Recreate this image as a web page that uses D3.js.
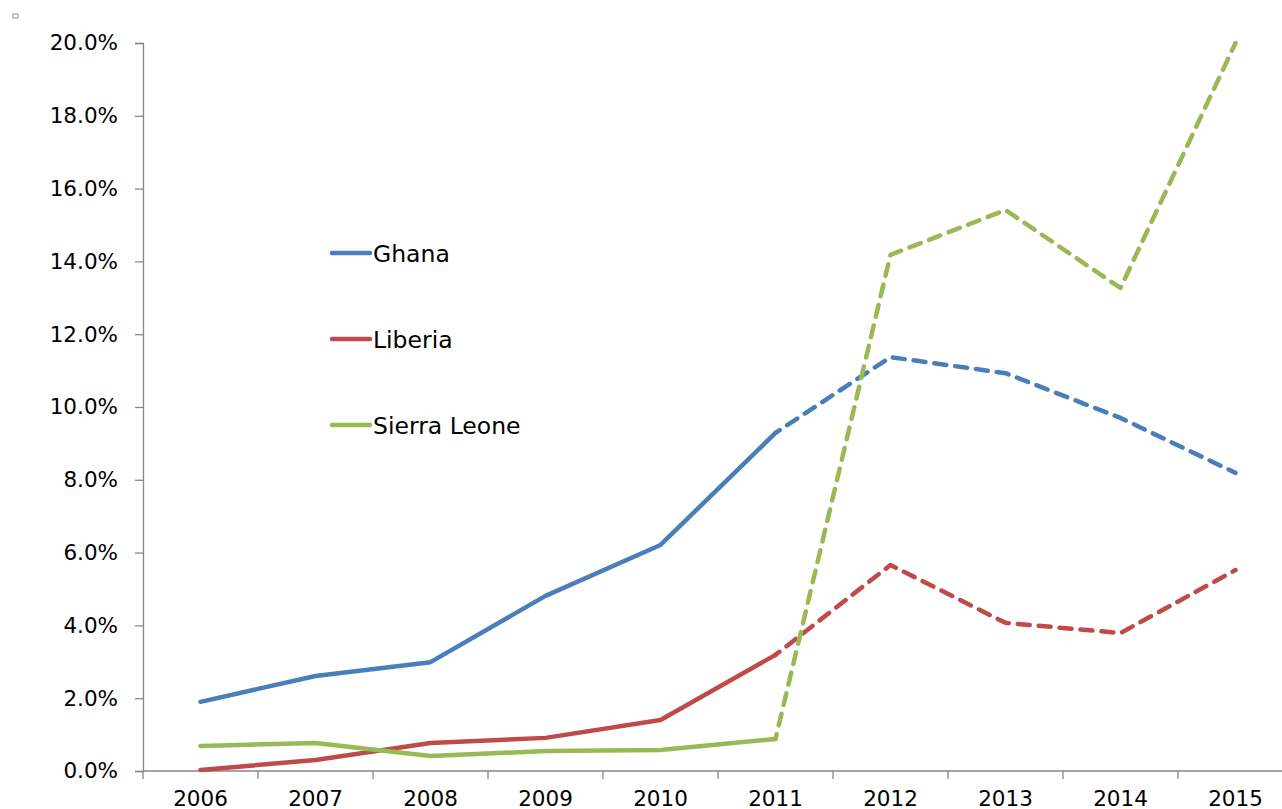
<!DOCTYPE html>
<html><head><meta charset="utf-8">
<script src="https://cdn.jsdelivr.net/npm/d3@7"></script>
<style>body{margin:0;background:#fff}svg{display:block}text{font-family:"DejaVu Sans",Verdana,sans-serif;fill:#000}</style>
</head><body><svg id="c" width="1282" height="809"></svg>
<script>
const years = ["2006","2007","2008","2009","2010","2011","2012","2013","2014","2015"];
const ghana = [1.9, 2.61, 2.99, 4.81, 6.21, 9.29, 11.37, 10.93, 9.70, 8.19];
const liberia = [0.03, 0.30, 0.77, 0.91, 1.40, 3.19, 5.66, 4.07, 3.79, 5.52];
const sierraLeone = [0.69, 0.77, 0.41, 0.55, 0.58, 0.88, 14.18, 15.41, 13.27, 20.0];
const yTicks = [0, 2, 4, 6, 8, 10, 12, 14, 16, 18, 20];
const seriesNames = ["Ghana", "Liberia", "Sierra Leone"];
const seriesColors = ["#4a7ebb", "#be4b48", "#98b954"];
const forecastFrom = "2011";

(function () {
const svg = d3.select("#c");
const pl = 143, pr = 1293, pt = 43, pb = 771;
const x = d3.scalePoint().domain(years).range([pl, pr]).padding(0.5);
const xb = d3.scaleBand().domain(years).range([pl, pr]);
const y = d3.scaleLinear().domain([0, 20]).range([pb, pt]);
const axisColor = "#868686";

svg.append("rect").attr("x", 13).attr("y", 14).attr("width", 5).attr("height", 4)
  .attr("fill", "none").attr("stroke", "#999").attr("stroke-width", 1);

const ya = svg.append("g").attr("transform", `translate(${pl},0)`)
  .call(d3.axisLeft(y).tickValues(yTicks).tickSize(8).tickPadding(17).tickFormat(d => d.toFixed(1) + "%"));
ya.select(".domain").attr("stroke", axisColor).attr("stroke-width", 1.3);
ya.selectAll(".tick line").attr("stroke", axisColor).attr("stroke-width", 1.3);
ya.selectAll(".tick text").attr("font-size", 21.5).attr("font-family", '"DejaVu Sans",sans-serif').attr("fill", "#000");

const xg = svg.append("g").attr("transform", `translate(0,${pb})`);
xg.append("line").attr("x1", pl).attr("x2", 1282).attr("stroke", axisColor).attr("stroke-width", 1.3);
xg.selectAll("line.t").data(years.concat(["end"])).enter().append("line").attr("class", "t")
  .attr("x1", (d, i) => pl + i * xb.bandwidth()).attr("x2", (d, i) => pl + i * xb.bandwidth())
  .attr("y1", 0).attr("y2", 8).attr("stroke", axisColor).attr("stroke-width", 1.3);
xg.selectAll("text").data(years).enter().append("text")
  .attr("x", d => x(d)).attr("y", 35).attr("text-anchor", "middle").attr("font-size", 21.5).text(d => d);

const allSeries = [ghana, liberia, sierraLeone];
const cut = years.indexOf(forecastFrom);
const line = d3.line().x(d => x(d.year)).y(d => y(d.v));
allSeries.forEach((vals, si) => {
  const pts = years.map((yr, i) => ({ year: yr, v: vals[i] }));
  svg.append("path").attr("d", line(pts.slice(0, cut + 1))).attr("fill", "none")
    .attr("stroke", seriesColors[si]).attr("stroke-width", 4.5).attr("stroke-linejoin", "round").attr("stroke-linecap", "round");
  svg.append("path").attr("d", line(pts.slice(cut))).attr("fill", "none")
    .attr("stroke", seriesColors[si]).attr("stroke-width", 4.5).attr("stroke-linejoin", "round")
    .attr("stroke-linecap", "round").attr("stroke-dasharray", "12,9").attr("stroke-dashoffset", -14);
});

const lg = svg.append("g");
seriesNames.forEach((n, i) => {
  const ly = 253 + i * 86;
  lg.append("line").attr("x1", 332).attr("x2", 370).attr("y1", ly).attr("y2", ly)
    .attr("stroke", seriesColors[i]).attr("stroke-width", 4.5).attr("stroke-linecap", "round");
  lg.append("text").attr("x", 373).attr("y", ly + 8.5).attr("font-size", 23.5).text(n);
});
})();
</script></body></html>
